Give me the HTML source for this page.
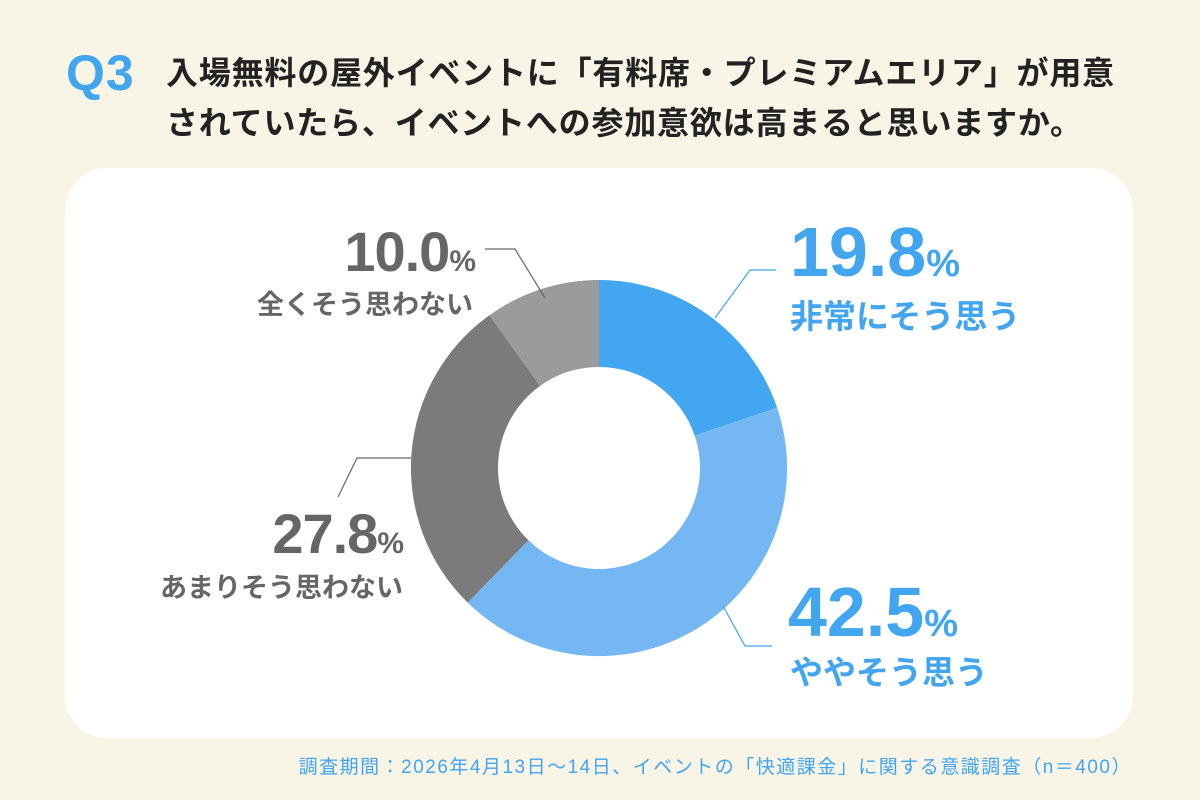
<!DOCTYPE html>
<html><head><meta charset="utf-8"><style>
body{margin:0;width:1200px;height:800px;background:#f8f4e6;position:relative;overflow:hidden;font-family:"Liberation Sans","Noto Sans CJK JP",sans-serif;font-weight:bold}
.t{position:absolute;white-space:nowrap}
</style></head><body>
<div class="t" style="left:66px;top:44px;font-size:50px;color:#42a5f0;letter-spacing:1px">Q3</div>
<div class="t" style="left:166px;top:48px;font-size:32px;color:#222;line-height:50px;letter-spacing:0.8px">入場無料の屋外イベントに「有料席・プレミアムエリア」が用意<br>されていたら、イベントへの参加意欲は高まると思いますか。</div>
<div style="position:absolute;left:65px;top:168px;width:1068px;height:570px;background:#fff;border-radius:42px"></div>
<svg width="1200" height="800" style="position:absolute;left:0;top:0">
<path d="M599,280 A188,188 0 0 1 777.1,407.7 L694.7,435.6 A101,101 0 0 0 599,367 Z" fill="#42a6f0"/>
<path d="M777.1,407.7 A188,188 0 0 1 467.7,602.6 L528.5,540.3 A101,101 0 0 0 694.7,435.6 Z" fill="#74b7f3"/>
<path d="M467.7,602.6 A188,188 0 0 1 489.4,315.2 L540.1,385.9 A101,101 0 0 0 528.5,540.3 Z" fill="#7b7b7b"/>
<path d="M489.4,315.2 A188,188 0 0 1 599,280 L599,367 A101,101 0 0 0 540.1,385.9 Z" fill="#9b9b9b"/>
<polyline points="545,298 515,249 485,249" fill="none" stroke="#666" stroke-width="1.2"/>
<polyline points="715,318 750,270 776,270" fill="none" stroke="#42a5f0" stroke-width="1.2"/>
<polyline points="723,606 745,646 772,646" fill="none" stroke="#42a5f0" stroke-width="1.2"/>
<polyline points="411,458 357,458 338,497" fill="none" stroke="#666" stroke-width="1.2"/>
</svg>
<div class="t" style="left:790px;top:212px;font-size:70px;color:#42a5f0">19.8<span style="font-size:38px">%</span></div>
<div class="t" style="left:790px;top:290px;font-size:33px;color:#42a5f0">非常にそう思う</div>
<div class="t" style="left:788px;top:572px;font-size:70px;color:#42a5f0">42.5<span style="font-size:38px">%</span></div>
<div class="t" style="left:790px;top:646px;font-size:33px;color:#42a5f0">ややそう思う</div>
<div class="t" style="right:725px;top:219px;font-size:56px;color:#666;letter-spacing:-1px">10.0<span style="font-size:30px">%</span></div>
<div class="t" style="right:727px;top:283px;font-size:27px;color:#666">全くそう思わない</div>
<div class="t" style="right:797px;top:501px;font-size:56px;color:#666;letter-spacing:-1px">27.8<span style="font-size:30px">%</span></div>
<div class="t" style="right:797px;top:566px;font-size:27px;color:#666">あまりそう思わない</div>
<div class="t" style="right:68px;top:752px;font-size:19px;font-weight:normal;letter-spacing:1.5px;color:#42a5f0">調査期間：2026年4月13日～14日、イベントの「快適課金」に関する意識調査（n＝400）</div>
</body></html>
